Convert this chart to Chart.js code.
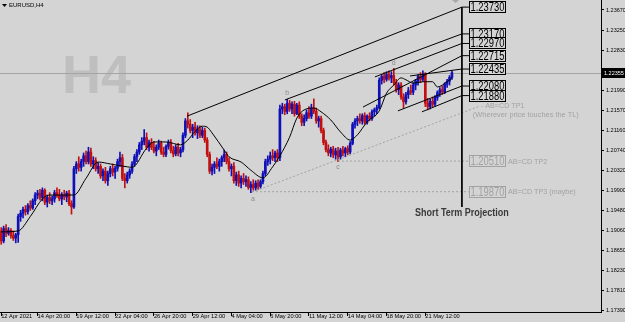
<!DOCTYPE html>
<html>
<head>
<meta charset="utf-8">
<script src="https://cdn.jsdelivr.net/npm/chart.js@4.4.0/dist/chart.umd.min.js"></script>
<style>
  html, body { margin: 0; padding: 0; background: #d4d4d4; }
  #wrap { width: 625px; height: 322px; position: relative; }
</style>
</head>
<body>
<div id="wrap"><canvas id="chart"></canvas></div>
<script>
// EURUSD H4 candles, bar 0 = 12 Apr 2021 08:00, last bar = 25 May 08:00
const opens = [
  1.1905,1.1884,1.1910,1.1900,1.1906,1.1895,1.1890,1.1897,1.1935,1.1942,
  1.1950,1.1945,1.1958,1.1953,1.1968,1.1980,1.1984,1.1975,1.1990,1.1965,
  1.1975,1.1968,1.1972,1.1985,1.1980,1.1972,1.1980,1.1976,1.1984,1.1962,
  1.1955,1.2035,1.2045,1.2038,1.2050,1.2062,1.2050,1.2070,1.2045,1.2052,
  1.2035,1.2040,1.2020,1.2030,1.2010,1.2025,1.2035,1.2028,1.2036,1.2050,
  1.2058,1.2015,1.2010,1.2022,1.2030,1.2045,1.2060,1.2070,1.2085,1.2092,
  1.2100,1.2080,1.2090,1.2080,1.2072,1.2080,1.2088,1.2070,1.2065,1.2082,
  1.2090,1.2073,1.2066,1.2080,1.2068,1.2075,1.2105,1.2135,1.2128,1.2115,
  1.2122,1.2110,1.2118,1.2105,1.2115,1.2095,1.2065,1.2030,1.2038,1.2045,
  1.2040,1.2050,1.2058,1.2065,1.2050,1.2035,1.2040,1.2010,1.2022,1.2005,
  1.2015,1.2008,1.2012,1.1996,1.2002,1.1995,1.2005,1.1998,1.2008,1.2025,
  1.2050,1.2055,1.2062,1.2058,1.2068,1.2058,1.2160,1.2165,1.2155,1.2172,
  1.2160,1.2170,1.2150,1.2168,1.2145,1.2132,1.2140,1.2152,1.2145,1.2162,
  1.2155,1.2135,1.2140,1.2115,1.2090,1.2075,1.2068,1.2076,1.2064,1.2072,
  1.2060,1.2074,1.2068,1.2077,1.2070,1.2088,1.2128,1.2135,1.2140,1.2135,
  1.2146,1.2132,1.2145,1.2140,1.2154,1.2158,1.2163,1.2220,1.2228,1.2222,
  1.2232,1.2225,1.2230,1.2215,1.2200,1.2210,1.2185,1.2175,1.2190,1.2198,
  1.2195,1.2210,1.2218,1.2228,1.2222,1.2232,1.2172,1.2165,1.2176,1.2170,
  1.2184,1.2194,1.2200,1.2196,1.2212,1.2218,1.2226
];
const highs = [
  1.1912,1.1915,1.1918,1.1912,1.1910,1.1905,1.1900,1.1940,1.1948,1.1955,
  1.1958,1.1962,1.1968,1.1972,1.1985,1.1990,1.1992,1.1995,1.1993,1.1980,
  1.1985,1.1978,1.1990,1.1995,1.1992,1.1985,1.1990,1.1988,1.1990,1.1968,
  1.2040,1.2050,1.2060,1.2055,1.2068,1.2072,1.2080,1.2078,1.2060,1.2058,
  1.2048,1.2045,1.2035,1.2038,1.2030,1.2040,1.2045,1.2040,1.2055,1.2070,
  1.2065,1.2025,1.2028,1.2035,1.2050,1.2065,1.2075,1.2090,1.2100,1.2117,
  1.2110,1.2095,1.2098,1.2092,1.2085,1.2095,1.2093,1.2080,1.2085,1.2095,
  1.2096,1.2082,1.2085,1.2088,1.2080,1.2110,1.2140,1.2152,1.2138,1.2128,
  1.2132,1.2125,1.2125,1.2122,1.2120,1.2100,1.2070,1.2045,1.2050,1.2058,
  1.2055,1.2062,1.2074,1.2070,1.2058,1.2045,1.2048,1.2028,1.2030,1.2020,
  1.2025,1.2020,1.2018,1.2008,1.2012,1.2010,1.2012,1.2012,1.2030,1.2055,
  1.2062,1.2070,1.2075,1.2072,1.2075,1.2168,1.2172,1.2170,1.2180,1.2178,
  1.2175,1.2176,1.2172,1.2175,1.2150,1.2148,1.2158,1.2165,1.2170,1.2181,
  1.2162,1.2145,1.2145,1.2120,1.2095,1.2085,1.2080,1.2082,1.2078,1.2080,
  1.2078,1.2082,1.2080,1.2083,1.2092,1.2132,1.2140,1.2145,1.2150,1.2150,
  1.2152,1.2148,1.2152,1.2158,1.2162,1.2168,1.2225,1.2232,1.2236,1.2238,
  1.2240,1.2238,1.2245,1.2222,1.2215,1.2215,1.2192,1.2195,1.2205,1.2210,
  1.2215,1.2222,1.2232,1.2236,1.2240,1.2236,1.2182,1.2180,1.2185,1.2188,
  1.2198,1.2205,1.2208,1.2215,1.2222,1.2230,1.2240
];
const lows = [
  1.1877,1.1880,1.1893,1.1896,1.1890,1.1885,1.1880,1.1881,1.1925,1.1932,
  1.1938,1.1940,1.1948,1.1950,1.1960,1.1972,1.1970,1.1968,1.1960,1.1955,
  1.1962,1.1960,1.1965,1.1975,1.1968,1.1960,1.1970,1.1966,1.1958,1.1940,
  1.1952,1.2025,1.2030,1.2030,1.2040,1.2045,1.2045,1.2040,1.2035,1.2030,
  1.2025,1.2015,1.2010,1.2005,1.2000,1.2018,1.2020,1.2015,1.2030,1.2040,
  1.2010,1.1995,1.2005,1.2015,1.2025,1.2040,1.2050,1.2065,1.2075,1.2085,
  1.2075,1.2072,1.2075,1.2068,1.2062,1.2075,1.2065,1.2060,1.2060,1.2076,
  1.2068,1.2060,1.2062,1.2062,1.2060,1.2070,1.2100,1.2120,1.2110,1.2100,
  1.2105,1.2098,1.2100,1.2100,1.2090,1.2060,1.2025,1.2022,1.2025,1.2035,
  1.2030,1.2040,1.2050,1.2045,1.2030,1.2020,1.2005,1.2000,1.1998,1.1995,
  1.2002,1.1998,1.1992,1.1985,1.1990,1.1990,1.1992,1.1994,1.2003,1.2020,
  1.2042,1.2045,1.2052,1.2050,1.2050,1.2052,1.2150,1.2148,1.2150,1.2155,
  1.2150,1.2145,1.2148,1.2140,1.2125,1.2125,1.2135,1.2140,1.2140,1.2150,
  1.2130,1.2122,1.2110,1.2085,1.2070,1.2062,1.2060,1.2058,1.2055,1.2050,
  1.2055,1.2062,1.2060,1.2064,1.2066,1.2085,1.2120,1.2125,1.2130,1.2128,
  1.2128,1.2128,1.2135,1.2136,1.2145,1.2150,1.2160,1.2212,1.2215,1.2218,
  1.2220,1.2215,1.2210,1.2195,1.2190,1.2180,1.2162,1.2170,1.2182,1.2190,
  1.2190,1.2200,1.2210,1.2215,1.2218,1.2165,1.2158,1.2160,1.2165,1.2166,
  1.2178,1.2186,1.2190,1.2192,1.2205,1.2210,1.2222
];
const closes = [
  1.1884,1.1910,1.1900,1.1906,1.1895,1.1890,1.1897,1.1935,1.1942,1.1950,
  1.1945,1.1958,1.1953,1.1968,1.1980,1.1984,1.1975,1.1990,1.1965,1.1975,
  1.1968,1.1972,1.1985,1.1980,1.1972,1.1980,1.1976,1.1984,1.1962,1.1955,
  1.2035,1.2045,1.2038,1.2050,1.2062,1.2050,1.2070,1.2045,1.2052,1.2035,
  1.2040,1.2020,1.2030,1.2010,1.2025,1.2035,1.2028,1.2036,1.2050,1.2058,
  1.2015,1.2010,1.2022,1.2030,1.2045,1.2060,1.2070,1.2085,1.2092,1.2100,
  1.2080,1.2090,1.2080,1.2072,1.2080,1.2088,1.2070,1.2065,1.2082,1.2090,
  1.2073,1.2066,1.2080,1.2068,1.2075,1.2105,1.2135,1.2128,1.2115,1.2122,
  1.2110,1.2118,1.2105,1.2115,1.2095,1.2065,1.2030,1.2038,1.2045,1.2040,
  1.2050,1.2058,1.2065,1.2050,1.2035,1.2040,1.2010,1.2022,1.2005,1.2015,
  1.2008,1.2012,1.1996,1.2002,1.1995,1.2005,1.1998,1.2008,1.2025,1.2050,
  1.2055,1.2062,1.2058,1.2068,1.2058,1.2160,1.2165,1.2155,1.2172,1.2160,
  1.2170,1.2150,1.2168,1.2145,1.2132,1.2140,1.2152,1.2145,1.2162,1.2155,
  1.2135,1.2140,1.2115,1.2090,1.2075,1.2068,1.2076,1.2064,1.2072,1.2060,
  1.2074,1.2068,1.2077,1.2070,1.2088,1.2128,1.2135,1.2140,1.2135,1.2146,
  1.2132,1.2145,1.2140,1.2154,1.2158,1.2163,1.2220,1.2228,1.2222,1.2232,
  1.2225,1.2230,1.2215,1.2200,1.2210,1.2185,1.2175,1.2190,1.2198,1.2195,
  1.2210,1.2218,1.2228,1.2222,1.2232,1.2172,1.2165,1.2176,1.2170,1.2184,
  1.2194,1.2200,1.2196,1.2212,1.2218,1.2226,1.2236
];

// moving average: [bar, price]
const maBars = [0, 7, 12, 17, 20, 30, 35, 40, 45, 52, 54, 60, 63, 68, 74, 77, 80, 83, 85, 87, 92, 94, 99, 103, 108, 112, 115, 119, 122, 125, 129, 132, 136, 140, 144, 147, 151, 156, 159, 162, 165, 167, 170, 174, 178, 180, 184, 186];
const maValues = [1.1903, 1.1905, 1.1935, 1.1972, 1.1980, 1.1980, 1.2015, 1.2049, 1.2045, 1.2039, 1.2038, 1.2078, 1.2091, 1.2091, 1.2085, 1.2095, 1.2113, 1.2124, 1.2122, 1.2110, 1.2074, 1.2060, 1.2049, 1.2032, 1.2016, 1.2039, 1.2062, 1.2101, 1.2141, 1.2158, 1.2162, 1.2154, 1.2137, 1.2112, 1.2095, 1.2106, 1.2133, 1.2156, 1.2193, 1.2210, 1.2225, 1.2221, 1.2214, 1.2217, 1.2217, 1.2206, 1.2217, 1.2225];

// trend lines: start bar/price, they end at the projection line with these prices
const projBar = 190.1;
const labelBar = 193;
const lineStartBars = [76.7, 117.1, 154.2, 149.3, 168.7, 163.7, 173.6];
const lineStartPrices = [1.2145, 1.2179, 1.2227, 1.2164, 1.2229, 1.2156, 1.2154];
const lineEndPrices = [1.23730, 1.23170, 1.22970, 1.22715, 1.22435, 1.22080, 1.21880];

// AB=CD targets
const pointA = [103.5, 1.1986];
const pointC = [139, 1.2051];
const tp1End = [197.5, 1.2166];
const targetPrices = [1.20510, 1.19870];
const targetNotes = ['AB=CD TP2', 'AB=CD TP3 (maybe)'];
const bidPrice = 1.22355;

const tickBars = [0, 15, 31, 47, 63, 79, 95, 111, 127, 143, 159, 175];
const tickText = ['12 Apr 2021', '14 Apr 20:00', '19 Apr 12:00', '22 Apr 04:00', '26 Apr 20:00', '29 Apr 12:00', '4 May 04:00', '6 May 20:00', '11 May 12:00', '14 May 04:00', '18 May 20:00', '21 May 12:00'];
const yTicks = [1.23670, 1.23250, 1.22830, 1.22410, 1.21990, 1.21570, 1.21160, 1.20740, 1.20320, 1.19900, 1.19480, 1.19060, 1.18650, 1.18230, 1.17810, 1.17390];

const BG = '#d4d4d4';
const UP = '#1010b8';
const DOWN = '#c21010';
const GREY = '#a2a2a2';
const FONT = "'Liberation Sans', Arial, sans-serif";

const colors = opens.map((o, i) => closes[i] >= o ? UP : DOWN);

function lineSet(points, color, dash, extra) {
    return Object.assign({
        type: 'line',
        data: points.map(p => ({x: p[0], y: p[1]})),
        borderColor: color,
        borderWidth: 1,
        borderDash: dash || [],
        pointRadius: 0,
        tension: 0,
        fill: false,
        order: 1
    }, extra || {});
}

const datasets = [
    {
        data: opens.map((o, i) => ({x: i, y: [lows[i], highs[i]]})),
        backgroundColor: colors,
        barThickness: 1,
        grouped: false,
        order: 10
    },
    {
        data: opens.map((o, i) => ({x: i, y: [o, closes[i]]})),
        backgroundColor: colors,
        barThickness: 2,
        minBarLength: 1,
        grouped: false,
        order: 9
    },
    lineSet(maBars.map((b, i) => [b, maValues[i]]), '#000', null, {cubicInterpolationMode: 'monotone'})
];

lineStartBars.forEach((b, i) => {
    datasets.push(lineSet([[b, lineStartPrices[i]], [projBar, lineEndPrices[i]], [labelBar, lineEndPrices[i]]], '#000'));
});
// vertical projection line
datasets.push(lineSet([[projBar, 1.2373], [projBar, 1.1955]], '#000'));
// dotted AB=CD lines
datasets.push(lineSet([pointA, tp1End], GREY, [2, 2]));
datasets.push(lineSet([pointC, [labelBar, targetPrices[0]]], GREY, [2, 2]));
datasets.push(lineSet([[pointA[0], targetPrices[1]], [labelBar, targetPrices[1]]], GREY, [2, 2]));

function text(ctx, s, x, y, size, color, opts) {
    opts = opts || {};
    ctx.save();
    ctx.font = (opts.bold ? 'bold ' : '') + size + 'px ' + FONT;
    ctx.fillStyle = color;
    ctx.textBaseline = opts.baseline || 'middle';
    ctx.textAlign = opts.align || 'left';
    ctx.translate(x, y);
    ctx.scale(opts.sx || 1, 1);
    ctx.fillText(s, 0, 0);
    ctx.restore();
}

const decorations = {
    id: 'decorations',
    beforeDraw(chart) {
        const ctx = chart.ctx;
        ctx.save();
        ctx.fillStyle = BG;
        ctx.fillRect(0, 0, chart.width, chart.height);
        ctx.restore();
    },
    beforeDatasetsDraw(chart) {
        const ctx = chart.ctx;
        const y = chart.scales.y;
        const area = chart.chartArea;
        text(ctx, 'H4', 62, 93, 54, '#bfbfbf', {bold: true, baseline: 'alphabetic'});
        // bid line
        const by = Math.round(y.getPixelForValue(bidPrice)) + 0.5;
        ctx.save();
        ctx.strokeStyle = '#a4a4a4';
        ctx.lineWidth = 1;
        ctx.beginPath();
        ctx.moveTo(area.left, by);
        ctx.lineTo(area.right, by);
        ctx.stroke();
        // symbol title
        ctx.fillStyle = '#000';
        ctx.beginPath();
        ctx.moveTo(2, 4); ctx.lineTo(7, 4); ctx.lineTo(4.5, 7); ctx.closePath();
        ctx.fill();
        // marker at the top
        ctx.fillStyle = '#a8a8a8';
        ctx.beginPath();
        ctx.moveTo(452, 0); ctx.lineTo(459, 0); ctx.lineTo(455.5, 3); ctx.closePath();
        ctx.fill();
        ctx.restore();
        text(ctx, 'EURUSD,H4', 9, 5.5, 6, '#000');
    },
    afterDatasetsDraw(chart) {
        const ctx = chart.ctx;
        const x = chart.scales.x, y = chart.scales.y;
        const lx = x.getPixelForValue(labelBar);
        // wave letters
        const letters = [['a', 103.9, 1.1985, 6], ['b', 118, 1.2180, -6], ['c', 139, 1.2050, 5], ['d', 162, 1.2245, -5]];
        letters.forEach(l => text(ctx, l[0], x.getPixelForValue(l[1]), y.getPixelForValue(l[2]) + l[3], 7, '#8c8c8c', {align: 'center'}));
        // price boxes at the projection line
        const box = (p, color) => {
            const cy = Math.round(y.getPixelForValue(p));
            ctx.save();
            ctx.fillStyle = BG;
            ctx.strokeStyle = color;
            ctx.lineWidth = 1;
            ctx.fillRect(Math.round(lx), cy - 5, 36, 11);
            ctx.strokeRect(Math.round(lx) + 0.5, cy - 5.5, 36, 11);
            ctx.restore();
            text(ctx, p.toFixed(5), Math.round(lx) + 18.5, cy + 0.5, 12.5, color, {align: 'center', sx: 0.75});
        };
        lineEndPrices.forEach(p => box(p, '#000'));
        targetPrices.forEach((p, i) => {
            box(p, GREY);
            text(ctx, targetNotes[i], lx + 39, y.getPixelForValue(p) + 0.5, 7.2, GREY);
        });
        const ty = y.getPixelForValue(tp1End[1]);
        text(ctx, '- AB=CD TP1', x.getPixelForValue(tp1End[0]) + 1, ty, 7.2, GREY);
        text(ctx, '(Wherever price touches the TL)', x.getPixelForValue(tp1End[0]) - 7, ty + 9, 7.4, GREY);
        text(ctx, 'Short Term Projection', 415, 213, 10, '#3a3a3a', {bold: true, sx: 0.9});
    },
    afterDraw(chart) {
        const ctx = chart.ctx;
        const y = chart.scales.y;
        const cy = Math.round(y.getPixelForValue(bidPrice));
        ctx.save();
        ctx.fillStyle = '#000';
        ctx.fillRect(chart.chartArea.right + 1, cy - 5, 24, 10);
        ctx.restore();
        text(ctx, bidPrice.toFixed(5), chart.chartArea.right + 3, cy, 5.5, '#fff');
    }
};

new Chart(document.getElementById('chart'), {
    type: 'bar',
    data: { datasets: datasets },
    options: {
        responsive: true,
        maintainAspectRatio: false,
        animation: false,
        layout: { padding: 0 },
        plugins: { legend: { display: false }, tooltip: { enabled: false } },
        scales: {
            x: {
                type: 'linear',
                min: -0.5,
                max: 247.5,
                offset: false,
                afterBuildTicks: s => { s.ticks = tickBars.map(v => ({value: v})); },
                afterFit: s => { s.height = 10; s.paddingLeft = 0; s.paddingRight = 0; },
                grid: { offset: false, drawOnChartArea: false, drawTicks: true, tickLength: 4, color: '#000' },
                border: { color: '#000', width: 1 },
                ticks: {
                    autoSkip: false,
                    maxRotation: 0,
                    align: 'start',
                    padding: -3,
                    color: '#000',
                    font: { family: FONT, size: 5.7 },
                    callback: v => tickText[tickBars.indexOf(v)]
                }
            },
            y: {
                type: 'linear',
                position: 'right',
                min: 1.17354,
                max: 1.23879,
                afterBuildTicks: s => { s.ticks = yTicks.map(v => ({value: v})); },
                afterFit: s => { s.width = 24; s.paddingTop = 0; s.paddingBottom = 0; },
                grid: { drawOnChartArea: false, drawTicks: true, tickLength: 3, color: '#000' },
                border: { color: '#000', width: 1 },
                ticks: {
                    autoSkip: false,
                    padding: 2,
                    color: '#000',
                    font: { family: FONT, size: 5.5 },
                    callback: v => v.toFixed(5)
                }
            }
        }
    },
    plugins: [decorations]
});
</script>
</body>
</html>
